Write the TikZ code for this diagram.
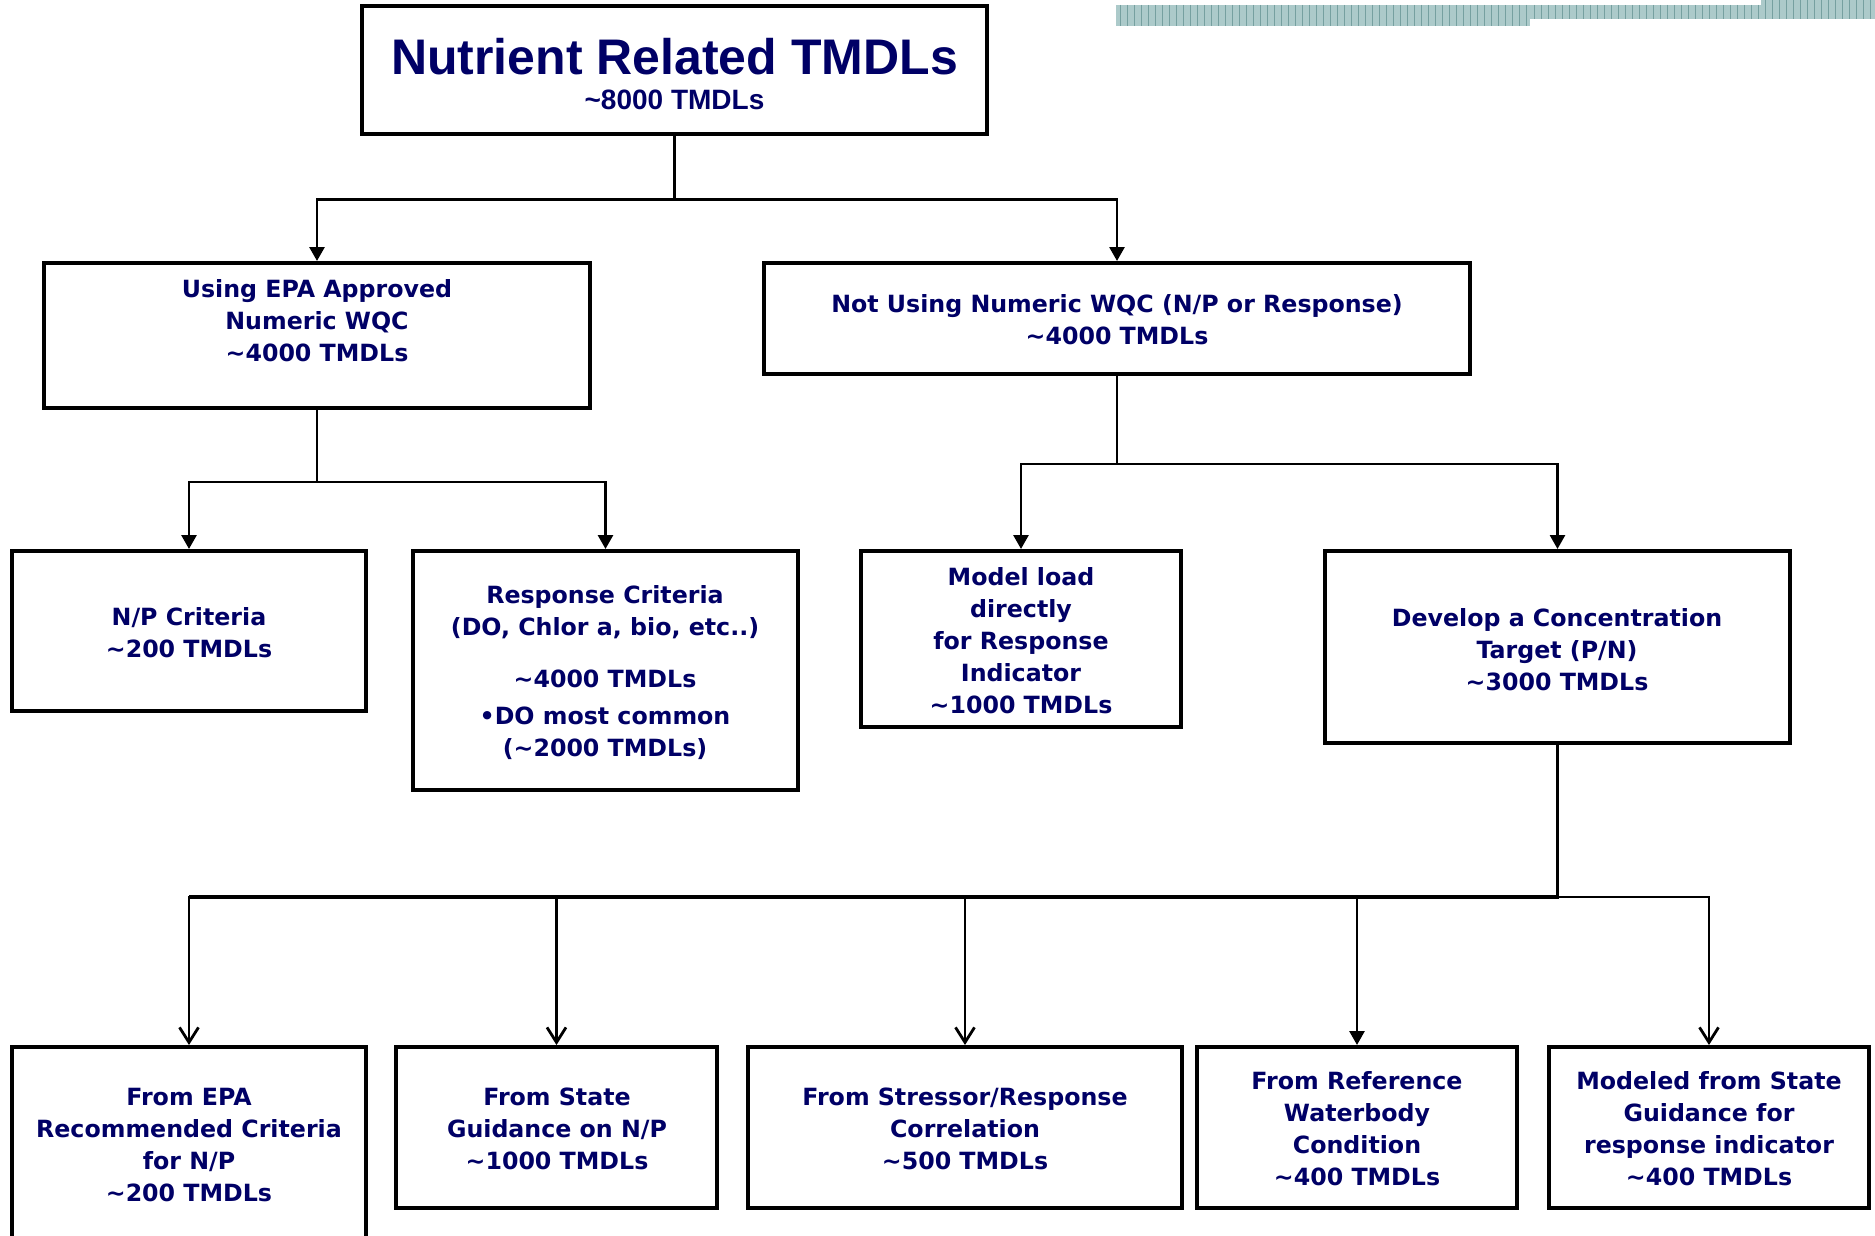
\documentclass[tikz,border=0pt]{standalone}
\usepackage{fontspec}
\setmainfont{DejaVu Sans}
\newfontfamily\titlefont{Liberation Sans}
\usetikzlibrary{arrows.meta}
\definecolor{navy}{RGB}{0,0,102}
\definecolor{barfill}{RGB}{172,202,202}
\definecolor{barline}{RGB}{118,160,160}
\newcommand\apx{\textasciitilde}
\begin{document}
\begin{tikzpicture}[x=1pt,y=-1pt,
  box/.style={draw=black, line width=4pt, fill=white, inner sep=0pt},
  txt/.style={text=navy, font=\bfseries\fontsize{23.7}{32}\selectfont, align=center, inner sep=0pt},
  ln/.style={line width=2.8pt},
  fa/.style={ln, -{Triangle[length=14pt,width=15pt]}},
  oa/.style={ln, -{Straight Barb[length=15pt,width=19pt]}}]
\useasboundingbox (0,0) rectangle (1875,1236);
\fill[white] (0,0) rectangle (1875,1236);
% decorative bar
\fill[barfill] (1116,5) rectangle (1530,26);
\fill[barfill] (1530,5) rectangle (1761,19);
\fill[barfill] (1761,0) rectangle (1875,19);
\foreach \x in {1120,1127,...,1527} \draw[barline, line width=1pt] (\x,5) -- (\x,26);
\foreach \x in {1534,1541,...,1758} \draw[barline, line width=1pt] (\x,5) -- (\x,19);
\foreach \x in {1765,1772,...,1870} \draw[barline, line width=1pt] (\x,0) -- (\x,19);
% boxes
\node[box, line width=4.5pt, minimum width=625pt, minimum height=128pt] (top) at (674.5,70) {};
\node[box, minimum width=546pt, minimum height=145pt] (A) at (317,335.5) {};
\node[box, minimum width=706pt, minimum height=111pt] (B) at (1117,318.5) {};
\node[box, minimum width=354pt, minimum height=160pt] (C) at (189,631) {};
\node[box, minimum width=385pt, minimum height=239pt] (D) at (605.5,670.5) {};
\node[box, minimum width=320pt, minimum height=176pt] (E) at (1021,639) {};
\node[box, minimum width=465pt, minimum height=192pt] (F) at (1557.5,647) {};
\node[box, minimum width=354pt, minimum height=240pt] (G) at (189,1167) {};
\node[box, minimum width=321pt, minimum height=161pt] (H) at (556.5,1127.5) {};
\node[box, minimum width=434pt, minimum height=161pt] (I) at (965,1127.5) {};
\node[box, minimum width=320pt, minimum height=161pt] (J) at (1357,1127.5) {};
\node[box, minimum width=320pt, minimum height=161pt] (K) at (1709,1127.5) {};
% texts
\node[text=navy, font=\titlefont\bfseries\fontsize{50}{50}\selectfont, inner sep=0pt] (ttl) at (674.5,57) {Nutrient Related TMDLs};
\node[text=navy, font=\titlefont\bfseries\fontsize{28}{28}\selectfont, inner sep=0pt] (sub) at (674.5,100) {\apx8000 TMDLs};
\node[txt] (tA) at (317,321) {Using EPA Approved\\Numeric WQC\\\apx4000 TMDLs};
\node[txt] (tB) at (1117,320) {Not Using Numeric WQC (N/P or Response)\\\apx4000 TMDLs};
\node[txt] (tC) at (189,633) {N/P Criteria\\\apx200 TMDLs};
\node[txt] (tD) at (605,673) {Response Criteria\\(DO, Chlor a, bio, etc..)\\[20pt]\apx4000 TMDLs\\[5pt]•DO most common\\(\apx2000 TMDLs)};
\node[txt] (tE) at (1021,641) {Model load\\directly\\for Response\\Indicator\\\apx1000 TMDLs};
\node[txt] (tF) at (1557,649.5) {Develop a Concentration\\Target (P/N)\\\apx3000 TMDLs};
\node[txt] (tG) at (189,1145) {From EPA\\Recommended Criteria\\for N/P\\\apx200 TMDLs};
\node[txt] (tH) at (557,1129) {From State\\Guidance on N/P\\\apx1000 TMDLs};
\node[txt] (tI) at (965,1129) {From Stressor/Response\\Correlation\\\apx500 TMDLs};
\node[txt] (tJ) at (1357,1129) {From Reference\\Waterbody\\Condition\\\apx400 TMDLs};
\node[txt] (tK) at (1709,1129) {Modeled from State\\Guidance for\\response indicator\\\apx400 TMDLs};
% connectors
\path (F.south) ++(0,152) coordinate (jb);
\draw[fa] (top.south) -- ++(0,63) -| (A.north);
\draw[fa] (top.south) -- ++(0,63) -| (B.north);
\draw[fa] (A.south) -- ++(0,72) -| (C.north);
\draw[fa] (A.south) -- ++(0,72) -| (D.north);
\draw[fa] (B.south) -- ++(0,88) -| (E.north);
\draw[fa] (B.south) -- ++(0,88) -| (F.north);
\draw[line width=3.6pt] (F.south) -- (jb) -- (jb -| G.north);
\draw[oa] (jb) -| (G.north);
\draw[oa] (jb) -| (H.north);
\draw[oa] (jb) -| (I.north);
\draw[fa] (jb) -| (J.north);
\draw[oa] (jb) -| (K.north);
\end{tikzpicture}
\end{document}
